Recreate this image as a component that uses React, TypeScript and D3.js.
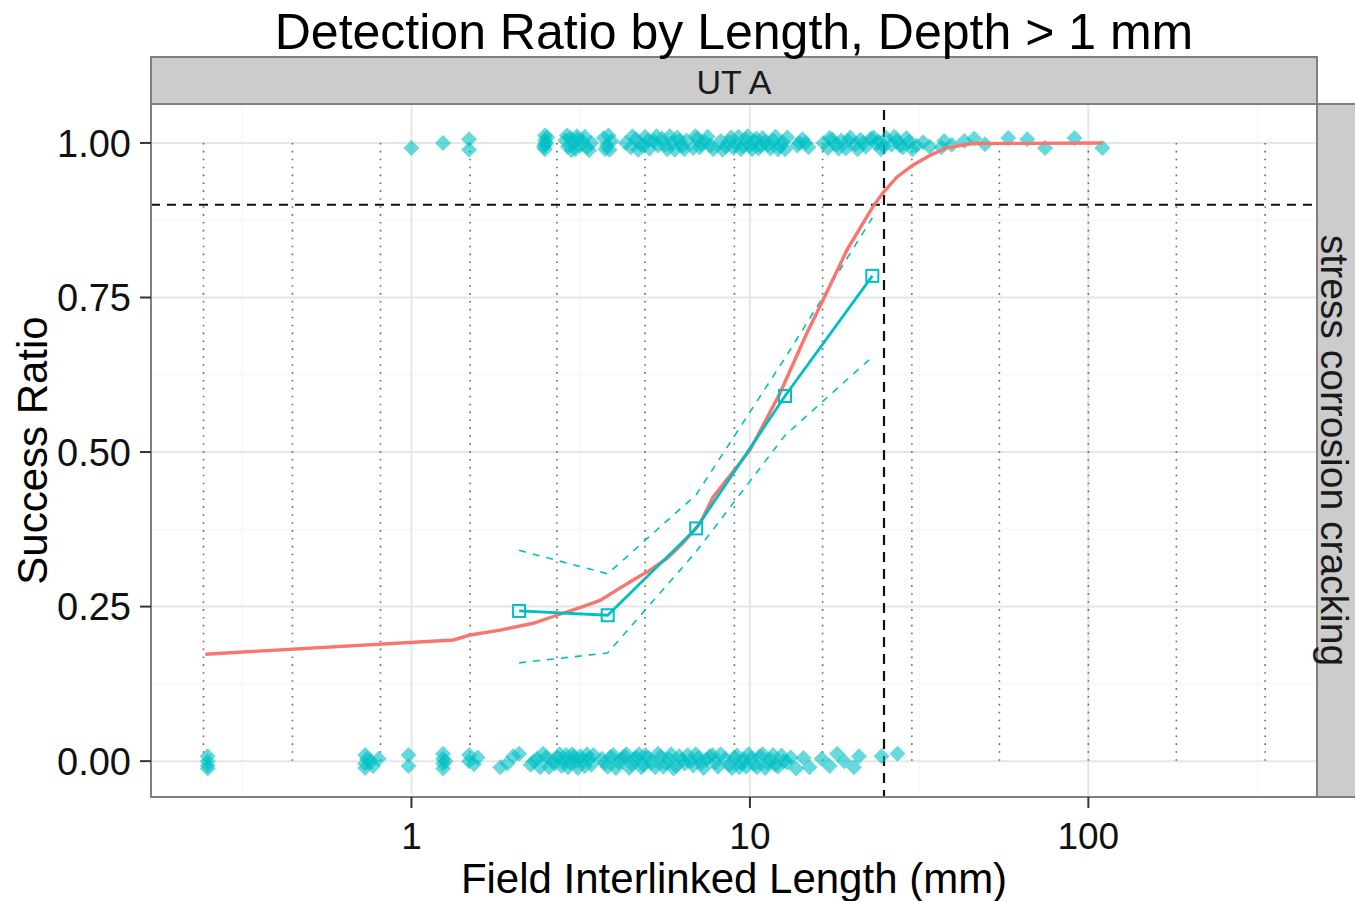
import { useEffect, useRef } from "react";
import * as d3 from "d3";

// detected flaws (success = 1), [length mm, jittered ratio]
const detected: [number, number][] = [
  [1.0, 0.992], [1.24, 1.0], [1.48, 1.006], [1.48, 0.989],
  [2.48, 1.012], [2.48, 1.004], [2.48, 0.997], [2.48, 0.99], [2.5, 1.0], [2.52, 1.009], [2.46, 0.994],
  [2.85, 1.004], [2.9, 0.994], [2.95, 1.008], [3.0, 0.999], [3.05, 0.99], [3.1, 1.006],
  [3.15, 0.996], [3.2, 1.003], [3.3, 0.993], [3.4, 1.0], [2.88, 1.012], [2.97, 0.988], [3.08, 1.011],
  [3.25, 1.01], [3.35, 0.988],
  [3.7, 1.008], [3.78, 0.996], [3.85, 0.989], [3.9, 1.003], [3.74, 0.99], [3.82, 1.012],
  [4.3, 1.0], [4.45, 0.993], [4.6, 1.006], [4.75, 0.998], [4.9, 1.01], [5.05, 0.991], [5.2, 1.003], [5.35, 0.996],
  [4.5, 1.011], [4.68, 0.989], [4.85, 0.996], [5.0, 1.004], [5.3, 1.011],
  [5.5, 1.007], [5.7, 0.99], [5.9, 1.0], [6.1, 1.009], [6.3, 0.995], [6.5, 1.004],
  [5.6, 0.997], [5.8, 1.011], [6.0, 0.989], [6.2, 1.003], [6.4, 0.99],
  [6.8, 0.992], [7.0, 1.007], [7.2, 0.998], [7.5, 1.01], [7.8, 0.99],
  [6.9, 1.011], [7.1, 0.993], [7.35, 1.002], [7.65, 0.996],
  [8.2, 1.003], [8.5, 0.994], [8.8, 1.009], [9.1, 0.999], [9.4, 0.99], [9.7, 1.006], [10.0, 0.996], [10.3, 1.003], [10.6, 0.991],
  [8.3, 0.989], [8.65, 1.002], [8.95, 0.992], [9.25, 1.01], [9.55, 0.995], [9.85, 1.011], [10.15, 0.99], [10.45, 1.007], [10.75, 0.996],
  [10.9, 1.008], [11.3, 0.997], [11.7, 1.004], [12.1, 0.99], [12.5, 1.001], [12.9, 1.009],
  [11.1, 1.002], [11.5, 0.991], [11.9, 1.01], [12.3, 0.995], [12.7, 0.99],
  [13.8, 0.996], [14.3, 1.006], [14.9, 0.993], [14.0, 1.0], [14.6, 1.0],
  [16.5, 1.0], [17.0, 0.992], [17.5, 1.006], [18.0, 0.997], [18.6, 1.004], [19.2, 0.991], [19.8, 1.009],
  [20.5, 0.998], [21.2, 1.005], [22.0, 0.994], [22.8, 1.007], [23.6, 0.999], [24.4, 0.99], [25.3, 1.008],
  [26.2, 0.997], [27.2, 1.004], [28.3, 0.993], [29.5, 1.002], [31.0, 0.996], [32.5, 1.001], [34.0, 0.994],
  [17.2, 1.008], [18.3, 0.991], [19.5, 1.003], [20.8, 0.99], [21.6, 1.0], [23.2, 1.009], [24.0, 1.002],
  [24.8, 0.995], [26.7, 1.01], [27.8, 0.996], [29.0, 1.008], [30.2, 0.99],
  [36.8, 0.993], [37.5, 1.003], [39.5, 0.997], [43.0, 1.003], [46.0, 1.007], [49.5, 0.998],
  [58.0, 1.008], [66.0, 1.006], [74.5, 0.992], [91.0, 1.008], [110.0, 0.992],
];

// missed flaws (success = 0)
const missed: [number, number][] = [
  [0.25, 0.008], [0.25, 0.0], [0.25, -0.007], [0.25, -0.012],
  [0.73, 0.01], [0.73, -0.004], [0.73, -0.011], [0.76, 0.0], [0.8, 0.004], [0.74, 0.004], [0.77, -0.008],
  [0.98, 0.01], [0.98, -0.008],
  [1.24, 0.012], [1.24, 0.004], [1.24, -0.004], [1.24, -0.012], [1.26, 0.0],
  [1.48, 0.01], [1.48, 0.0], [1.53, -0.005], [1.57, 0.006],
  [1.83, -0.01], [1.92, -0.004], [2.0, 0.008], [2.08, 0.012],
  [2.25, -0.006], [2.35, 0.004], [2.45, 0.012], [2.55, -0.01], [2.6, 0.0],
  [2.3, 0.0], [2.4, -0.01], [2.5, 0.006], [2.65, -0.004],
  [2.7, 0.006], [2.78, -0.008], [2.86, 0.01], [2.94, -0.002], [3.02, 0.007], [3.1, -0.011], [3.2, 0.002], [3.3, 0.011], [3.4, -0.006],
  [2.74, 0.011], [2.82, 0.0], [2.9, -0.01], [2.98, 0.011], [3.06, 0.0], [3.15, 0.008], [3.25, -0.008], [3.35, 0.004], [3.45, 0.01],
  [3.65, 0.004], [3.8, -0.009], [3.95, 0.01], [4.1, -0.002], [4.25, 0.008], [4.4, -0.011], [4.55, 0.003], [4.7, 0.011], [4.85, -0.006], [5.0, 0.005],
  [3.72, -0.003], [3.88, 0.007], [4.02, -0.011], [4.18, 0.003], [4.32, 0.011], [4.48, -0.005], [4.62, 0.006], [4.78, -0.01], [4.92, 0.01],
  [5.25, -0.01], [5.45, 0.007], [5.65, -0.003], [5.85, 0.011], [6.05, -0.008], [6.3, 0.002], [6.55, 0.01],
  [5.12, -0.003], [5.35, 0.012], [5.55, -0.009], [5.75, 0.004], [5.95, -0.012], [6.18, 0.008], [6.42, -0.004], [6.68, 0.0],
  [6.8, -0.007], [7.05, 0.005], [7.3, -0.011], [7.6, 0.008], [7.9, -0.002], [8.2, 0.011],
  [6.92, 0.011], [7.18, -0.003], [7.45, 0.002], [7.75, 0.01], [8.05, -0.009],
  [8.7, -0.006], [9.0, 0.006], [9.3, -0.01], [9.6, 0.003], [9.9, 0.011], [10.3, -0.005], [10.7, 0.008],
  [8.45, 0.004], [8.85, -0.011], [9.15, 0.009], [9.45, -0.003], [9.75, -0.009], [10.1, 0.005], [10.5, -0.01],
  [11.1, -0.011], [11.5, 0.002], [11.9, -0.006], [12.4, 0.009], [12.9, -0.002],
  [10.9, 0.011], [11.3, -0.003], [11.7, 0.01], [12.1, -0.009], [12.6, 0.0], [13.2, 0.006],
  [13.7, -0.012], [14.4, 0.005], [15.0, -0.01],
  [16.3, 0.004], [17.2, -0.008], [18.1, 0.012], [19.0, 0.0], [20.3, -0.01], [21.0, 0.008],
  [24.5, 0.008], [27.3, 0.012],
];

// fitted curve (red)
const fitLength = [0.246, 1.33, 1.49, 1.83, 2.29, 2.69, 3.21, 3.61, 4.05, 4.52, 5.07, 5.69, 6.35, 7.13, 7.78,
  10.0, 12.27, 14.75, 16.45, 19.36, 23.1, 24.7, 27.2, 30.3, 34.1, 38.2, 45.6, 110];
const fitRatio = [0.173, 0.196, 0.204, 0.212, 0.223, 0.236, 0.25, 0.26, 0.277, 0.293, 0.309, 0.328, 0.353, 0.385, 0.427,
  0.503, 0.595, 0.693, 0.746, 0.827, 0.897, 0.919, 0.945, 0.964, 0.98, 0.992, 0.999, 1.0];

// binned observed ratio with bounds (cyan)
const binLength = [2.08, 3.8, 6.94, 12.7, 23.0];
const binRatio = [0.243, 0.236, 0.3765, 0.5906, 0.785];
const binUpper = [0.341, 0.303, 0.431, 0.652, 0.879];
const binLower = [0.159, 0.175, 0.339, 0.527, 0.654];

const binEdges = [0.243, 0.445, 0.81, 1.49, 2.69, 4.9, 9.0, 16.4, 30.1, 54.6, 100, 182, 333];
const xTicks = [1, 10, 100];
const yTicks = [0, 0.25, 0.5, 0.75, 1];
const targetRatio = 0.9;
const targetLength = 24.9;

const FONT = "'Liberation Sans', Arial, sans-serif";
const CYAN = "#00BFC4";
const RED = "#F8766D";

export default function App() {
  const svgRef = useRef<SVGSVGElement>(null);

  useEffect(() => {
    const svg = d3.select(svgRef.current);
    svg.selectAll("*").remove();

    const width = 1355, height = 901;
    const pl = 151, pr = 1317, pt = 104, pb = 797;

    const x = d3.scaleLog().domain([0.17, 473.8]).range([pl, pr]);
    const y = d3.scaleLinear().domain([-0.058, 1.063]).range([pb, pt]);

    svg.attr("width", width).attr("height", height).style("font-family", FONT);
    svg.append("rect").attr("width", width).attr("height", height).attr("fill", "#fff");

    // panel grid
    const minorX = [0.316, 3.16, 31.6, 316];
    const minorY = [0.125, 0.375, 0.625, 0.875];
    const grid = svg.append("g");
    grid.selectAll(".mx").data(minorX).enter().append("line")
      .attr("x1", d => x(d)).attr("x2", d => x(d)).attr("y1", pt).attr("y2", pb)
      .attr("stroke", "#f4f4f4").attr("stroke-width", 1);
    grid.selectAll(".my").data(minorY).enter().append("line")
      .attr("y1", d => y(d)).attr("y2", d => y(d)).attr("x1", pl).attr("x2", pr)
      .attr("stroke", "#f4f4f4").attr("stroke-width", 1);
    grid.selectAll(".gx").data(xTicks).enter().append("line")
      .attr("x1", d => x(d)).attr("x2", d => x(d)).attr("y1", pt).attr("y2", pb)
      .attr("stroke", "#e6e6e6").attr("stroke-width", 2);
    grid.selectAll(".gy").data(yTicks).enter().append("line")
      .attr("y1", d => y(d)).attr("y2", d => y(d)).attr("x1", pl).attr("x2", pr)
      .attr("stroke", "#e6e6e6").attr("stroke-width", 2);

    // bin edges, dotted
    svg.append("g").selectAll("line").data(binEdges).enter().append("line")
      .attr("x1", d => x(d)).attr("x2", d => x(d)).attr("y1", y(1)).attr("y2", y(0))
      .attr("stroke", "#666").attr("stroke-width", 1.6).attr("stroke-dasharray", "1.6,6.3");

    // reference lines
    svg.append("line").attr("x1", pl).attr("x2", pr).attr("y1", y(targetRatio)).attr("y2", y(targetRatio))
      .attr("stroke", "#111").attr("stroke-width", 2).attr("stroke-dasharray", "9,7");
    svg.append("line").attr("x1", x(targetLength)).attr("x2", x(targetLength)).attr("y1", pt + 6).attr("y2", pb)
      .attr("stroke", "#111").attr("stroke-width", 2.2).attr("stroke-dasharray", "10,7");

    // points
    const diamond = "M0,-8L8,0L0,8L-8,0Z";
    svg.append("g").selectAll("path").data([...missed, ...detected]).enter().append("path")
      .attr("d", diamond)
      .attr("transform", d => `translate(${x(d[0])},${y(d[1])})`)
      .attr("fill", CYAN).attr("fill-opacity", 0.6);

    // bounds
    const bandLine = (vals: number[]) => d3.line<number>()
      .x((_, i) => x(binLength[i])).y((d) => y(d))(vals);
    [binUpper, binLower].forEach(vals => {
      svg.append("path").attr("d", bandLine(vals)).attr("fill", "none")
        .attr("stroke", CYAN).attr("stroke-width", 1.6).attr("stroke-dasharray", "7,7");
    });

    // fitted curve
    const fitLine = d3.line<number>().x((_, i) => x(fitLength[i])).y(d => y(d));
    svg.append("path").attr("d", fitLine(fitRatio)).attr("fill", "none")
      .attr("stroke", RED).attr("stroke-width", 3.4);

    // observed ratio
    svg.append("path").attr("d", bandLine(binRatio)).attr("fill", "none")
      .attr("stroke", CYAN).attr("stroke-width", 2.8);
    svg.append("g").selectAll("rect").data(binRatio).enter().append("rect")
      .attr("x", (_, i) => x(binLength[i]) - 6).attr("y", d => y(d) - 6)
      .attr("width", 12).attr("height", 12)
      .attr("fill", "none").attr("stroke", CYAN).attr("stroke-width", 2);

    // panel border
    svg.append("rect").attr("x", pl).attr("y", pt).attr("width", pr - pl).attr("height", pb - pt)
      .attr("fill", "none").attr("stroke", "#7f7f7f").attr("stroke-width", 2);

    // strips
    svg.append("rect").attr("x", pl).attr("y", 57).attr("width", pr - pl).attr("height", pt - 57)
      .attr("fill", "#cccccc").attr("stroke", "#7f7f7f").attr("stroke-width", 2);
    svg.append("text").attr("x", (pl + pr) / 2).attr("y", 94).attr("text-anchor", "middle")
      .style("font-size", "34px").attr("fill", "#1a1a1a").text("UT A");
    svg.append("rect").attr("x", pr).attr("y", pt).attr("width", 60).attr("height", pb - pt)
      .attr("fill", "#cccccc").attr("stroke", "#7f7f7f").attr("stroke-width", 2);
    svg.append("text").attr("transform", `translate(1321,${(pt + pb) / 2}) rotate(90)`)
      .attr("text-anchor", "middle").style("font-size", "39px").attr("fill", "#1a1a1a")
      .text("stress corrosion cracking");

    // axes
    const ax = svg.append("g");
    ax.selectAll(".xt").data(xTicks).enter().append("line")
      .attr("x1", d => x(d)).attr("x2", d => x(d)).attr("y1", pb).attr("y2", pb + 11)
      .attr("stroke", "#333").attr("stroke-width", 2);
    ax.selectAll(".xl").data(xTicks).enter().append("text")
      .attr("x", d => x(d)).attr("y", 849).attr("text-anchor", "middle")
      .style("font-size", "37px").attr("fill", "#111").text(d => String(d));
    ax.selectAll(".yt").data(yTicks).enter().append("line")
      .attr("x1", pl - 11).attr("x2", pl).attr("y1", d => y(d)).attr("y2", d => y(d))
      .attr("stroke", "#333").attr("stroke-width", 2);
    ax.selectAll(".yl").data(yTicks).enter().append("text")
      .attr("x", 131).attr("y", d => y(d)).attr("dy", "0.36em").attr("text-anchor", "end")
      .style("font-size", "38px").attr("fill", "#111").text(d => d3.format(".2f")(d));

    svg.append("text").attr("x", (pl + pr) / 2).attr("y", 893).attr("text-anchor", "middle")
      .style("font-size", "42px").attr("fill", "#000").text("Field Interlinked Length (mm)");
    svg.append("text").attr("transform", `translate(47,${(pt + pb) / 2}) rotate(-90)`)
      .attr("text-anchor", "middle").style("font-size", "42px").attr("fill", "#000").text("Success Ratio");

    svg.append("text").attr("x", (pl + pr) / 2).attr("y", 49).attr("text-anchor", "middle")
      .style("font-size", "50px").attr("fill", "#000").text("Detection Ratio by Length, Depth > 1 mm");
  }, []);

  return <svg ref={svgRef} style={{ position: "absolute", left: 0, top: 0 }} />;
}
